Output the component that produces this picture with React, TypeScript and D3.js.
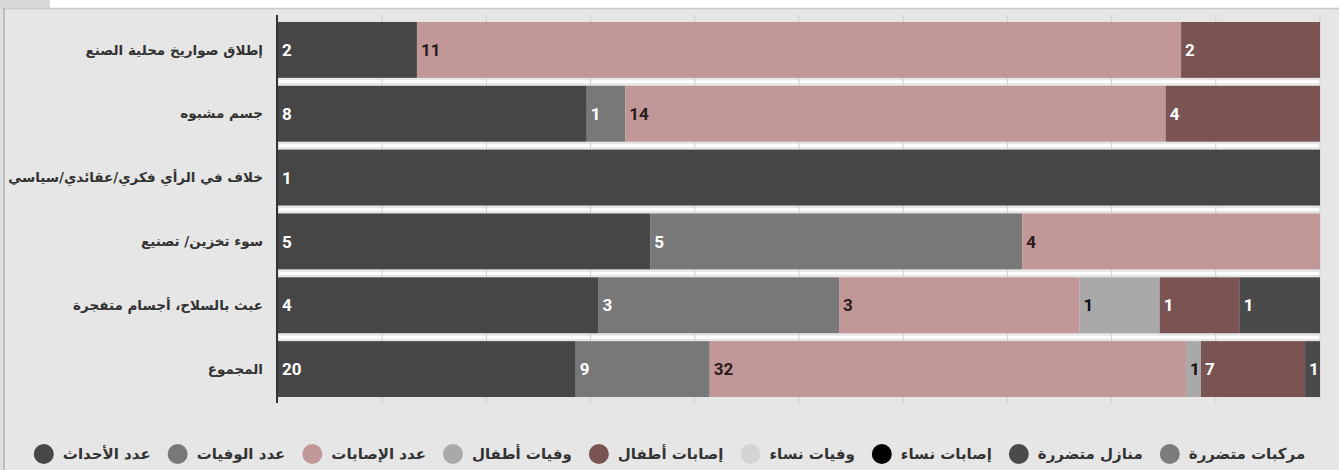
import React, { useEffect, useRef } from "react";
import * as d3 from "d3";

const categories = [
  "إطلاق صواريخ محلية الصنع",
  "جسم مشبوه",
  "خلاف في الرأي فكري/عقائدي/سياسي",
  "سوء تخزين/ تصنيع",
  "عبث بالسلاح، أجسام متفجرة",
  "المجموع",
];

const seriesNames = [
  "عدد الأحداث",
  "عدد الوفيات",
  "عدد الإصابات",
  "وفيات أطفال",
  "إصابات أطفال",
  "وفيات نساء",
  "إصابات نساء",
  "منازل متضررة",
  "مركبات متضررة",
];

const seriesColors = [
  "#464646",
  "#787878",
  "#c29797",
  "#a9a9a9",
  "#7a5353",
  "#d4d4d4",
  "#000000",
  "#4a4a4a",
  "#7c7c7c",
];

const labelColors = [
  "#ffffff",
  "#ffffff",
  "#2a1c1c",
  "#111111",
  "#ffffff",
  "#111111",
  "#ffffff",
  "#ffffff",
  "#ffffff",
];

const events = [2, 8, 1, 5, 4, 20];
const deaths = [0, 1, 0, 5, 3, 9];
const injuries = [11, 14, 0, 4, 3, 32];
const childDeaths = [0, 0, 0, 0, 1, 1];
const childInjuries = [2, 4, 0, 0, 1, 7];
const womenDeaths = [0, 0, 0, 0, 0, 0];
const womenInjuries = [0, 0, 0, 0, 0, 0];
const houses = [0, 0, 0, 0, 1, 1];
const vehicles = [0, 0, 0, 0, 0, 0];

const seriesValues = [
  events,
  deaths,
  injuries,
  childDeaths,
  childInjuries,
  womenDeaths,
  womenInjuries,
  houses,
  vehicles,
];

const W = 1339;
const H = 470;

export default function App() {
  const ref = useRef<SVGSVGElement | null>(null);

  useEffect(() => {
    document.body.style.margin = "0";
    const svg = d3.select(ref.current);
    svg.selectAll("*").remove();

    // frame
    svg.append("rect").attr("width", W).attr("height", H).attr("fill", "#ffffff");
    svg.append("rect").attr("x", 0).attr("y", 0).attr("width", 50).attr("height", 10).attr("fill", "#d8d8d8");
    svg.append("rect").attr("x", 0).attr("y", 10).attr("width", 4).attr("height", H).attr("fill", "#dedede");
    svg.append("rect").attr("x", 4).attr("y", 8).attr("width", W).attr("height", H).attr("fill", "#e6e6e6");
    svg.append("line").attr("x1", 4).attr("x2", W).attr("y1", 8.5).attr("y2", 8.5).attr("stroke", "#c8c8c8").attr("stroke-width", 1.5);
    svg.append("line").attr("x1", 4).attr("x2", 4).attr("y1", 8).attr("y2", H).attr("stroke", "#b2b2b2").attr("stroke-width", 1.5);

    const x = d3.scaleLinear().domain([0, 1]).range([278, 1320]);
    const y = d3
      .scaleBand<number>()
      .domain(d3.range(categories.length))
      .range([18, 401])
      .paddingInner(0.125)
      .paddingOuter(0.0625);

    const plotTop = 15;
    const plotBottom = 403;

    // separators between bars
    for (let i = 1; i < categories.length; i++) {
      const yy = (y(i) as number) - 4;
      svg.append("line").attr("x1", 279).attr("x2", 1321).attr("y1", yy).attr("y2", yy).attr("stroke", "#ffffff").attr("stroke-width", 3);
    }

    // gridlines
    svg
      .append("g")
      .selectAll("line")
      .data(x.ticks(10).slice(1))
      .join("line")
      .attr("x1", (d) => x(d))
      .attr("x2", (d) => x(d))
      .attr("y1", plotTop)
      .attr("y2", plotBottom)
      .attr("stroke", "#cfcfcf")
      .attr("stroke-width", 1);

    // stacked normalized bars
    const totals = categories.map((_, i) => d3.sum(seriesValues, (s) => s[i]));
    const barG = svg.append("g");
    const labelG = svg.append("g");
    categories.forEach((_, i) => {
      let acc = 0;
      seriesValues.forEach((s, k) => {
        const v = s[i];
        if (!v) return;
        const x0 = x(acc / totals[i]);
        const x1 = x((acc + v) / totals[i]);
        acc += v;
        barG
          .append("rect")
          .attr("x", x0)
          .attr("y", y(i) as number)
          .attr("width", x1 - x0)
          .attr("height", y.bandwidth())
          .attr("fill", seriesColors[k]);
        labelG
          .append("text")
          .attr("x", x0 + 4)
          .attr("y", (y(i) as number) + y.bandwidth() / 2)
          .attr("dy", "0.36em")
          .attr("font-family", "Roboto, sans-serif")
          .attr("font-weight", 700)
          .attr("font-size", 17)
          .attr("fill", labelColors[k])
          .text(String(v));
      });
    });

    // axis line
    svg.append("line").attr("x1", 277).attr("x2", 277).attr("y1", plotTop).attr("y2", plotBottom).attr("stroke", "#333333").attr("stroke-width", 2);

    // category labels
    svg
      .append("g")
      .selectAll("text")
      .data(categories)
      .join("text")
      .attr("x", 263)
      .attr("y", (_, i) => (y(i) as number) + y.bandwidth() / 2)
      .attr("dy", "0.35em")
      .attr("text-anchor", "end")
      .attr("font-family", "'DejaVu Sans', sans-serif")
      .attr("font-weight", 700)
      .attr("font-size", 13.5)
      .attr("fill", "#333333")
      .text((d) => d);

    // legend
    const r = 10;
    const gapMT = 9;
    const gapItem = 17;
    const legY = 454;
    const legG = svg.append("g");
    const texts = seriesNames.map((n) =>
      legG
        .append("text")
        .attr("y", legY)
        .attr("dy", "0.35em")
        .attr("font-family", "'DejaVu Sans', sans-serif")
        .attr("font-weight", 700)
        .attr("font-size", 15)
        .attr("fill", "#333333")
        .text(n)
    );
    const widths = texts.map((t) => (t.node() as SVGTextElement).getComputedTextLength());
    const total = d3.sum(widths) + seriesNames.length * (2 * r + gapMT) + (seriesNames.length - 1) * gapItem;
    let cx = W / 2 - total / 2;
    seriesNames.forEach((_, k) => {
      legG.append("circle").attr("cx", cx + r).attr("cy", legY).attr("r", r).attr("fill", seriesColors[k]);
      texts[k].attr("x", cx + 2 * r + gapMT);
      cx += 2 * r + gapMT + widths[k] + gapItem;
    });
  }, []);

  return <svg ref={ref} width={W} height={H} style={{ display: "block" }} />;
}
